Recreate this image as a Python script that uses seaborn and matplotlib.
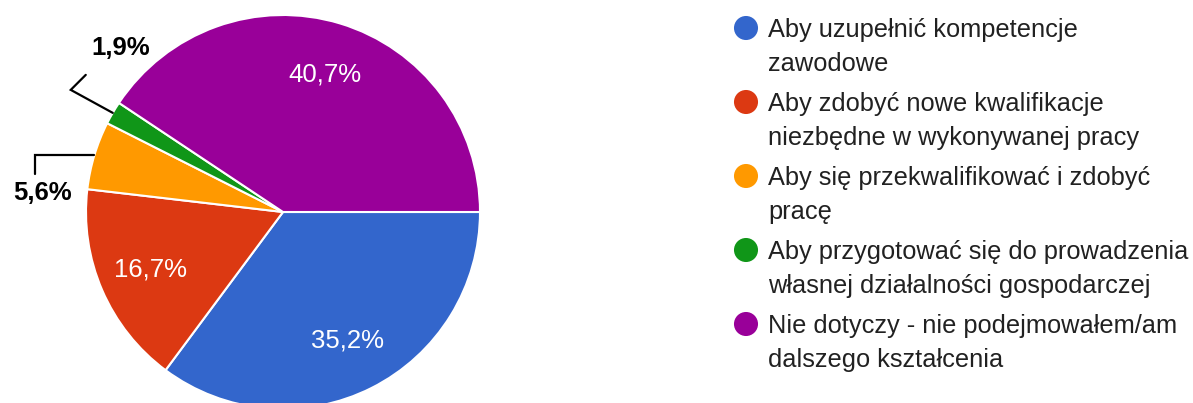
import matplotlib
matplotlib.use("Agg")
import matplotlib.pyplot as plt
import seaborn as sns
import numpy as np

sns.set_theme(style="white")
plt.rcParams['font.family'] = ['Liberation Sans', 'DejaVu Sans']

# Data
labels = [
    "Aby uzupełnić kompetencje\nzawodowe",
    "Aby zdobyć nowe kwalifikacje\nniezbędne w wykonywanej pracy",
    "Aby się przekwalifikować i zdobyć\npracę",
    "Aby przygotować się do prowadzenia\nwłasnej działalności gospodarczej",
    "Nie dotyczy - nie podejmowałem/am\ndalszego kształcenia",
]
values = [35.2, 16.7, 5.6, 1.9, 40.7]
colors = ['#3366CC', '#DC3912', '#FF9900', '#109618', '#990099']

W, H = 1193, 403
fig = plt.figure(figsize=(W / 100, H / 100), dpi=100)
ax = fig.add_axes([0, 0, 1, 1])

cx, cy, R = 283, 212, 197


def pct_fmt(p):
    return f"{p:.1f}".replace('.', ',') + '%' if p >= 10 else ''


wedges, texts, autotexts = ax.pie(
    values, colors=colors, startangle=0, counterclock=True,
    center=(cx, cy), radius=R, autopct=pct_fmt, pctdistance=0.73,
    wedgeprops=dict(edgecolor='white', linewidth=1.5),
    textprops=dict(color='white', fontsize=18.5),
)

ax.set_xlim(0, W)
ax.set_ylim(H, 0)
ax.set_aspect('equal')
ax.axis('off')

# outside labels for small slices with leader lines
small = {3: [(-42, -23), (-27, -38)], 2: [(-59, 0), (-59, 19)]}
text_pos = {3: (121, 48), 2: (42, 193)}
for i, offs in small.items():
    w = wedges[i]
    mid = np.radians((w.theta1 + w.theta2) / 2)
    x0 = cx + R * np.cos(mid)
    y0 = cy + R * np.sin(mid)
    xs = [x0] + [x0 + dx for dx, dy in offs]
    ys = [y0] + [y0 + dy for dx, dy in offs]
    ax.plot(xs, ys, color='black', linewidth=1.6, solid_joinstyle='miter')
    txt = f"{values[i]:.1f}".replace('.', ',') + '%'
    ax.text(*text_pos[i], txt, ha='center', va='center',
            fontsize=18.5, fontweight='bold', color='black')

# legend
lx, ly0, step, lstep = 746, 37, 74, 34
for i, (lab, col) in enumerate(zip(labels, colors)):
    base = ly0 + i * step
    ax.scatter([lx], [base - 9], s=300, color=col, edgecolors='none')
    for j, line in enumerate(lab.split('\n')):
        ax.text(lx + 22, base + j * lstep, line, ha='left', va='baseline',
                fontsize=18.3, color='#212121')

fig.savefig('out.png', dpi=100, facecolor='white')
